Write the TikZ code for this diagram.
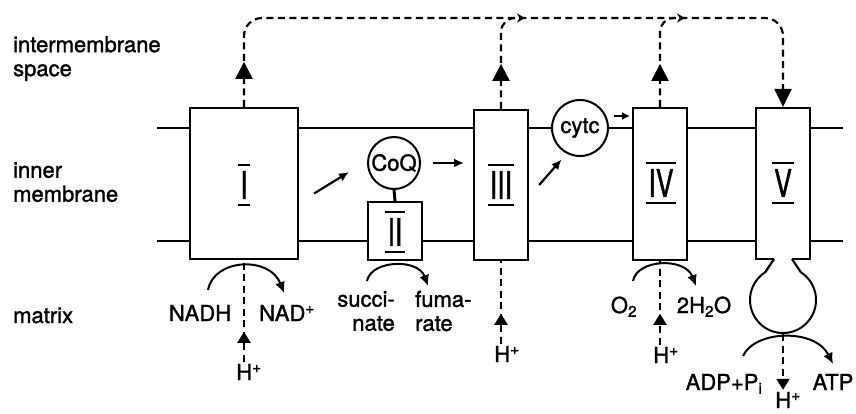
\documentclass[tikz,border=0pt]{standalone}
\usepackage{fontspec}
\setmainfont{TeX Gyre Heros}[UprightFeatures={FakeBold=1.4}]
\usepackage{graphicx}
\usetikzlibrary{arrows.meta,positioning,decorations.markings}

\newcommand{\numeral}[1]{\scalebox{0.7}[1]{#1}}

\begin{document}
\begin{tikzpicture}[
  x=1pt, y=-1pt,
  >=Latex,
  font=\fontsize{22}{24}\selectfont,
  membrane/.style={line width=2.5pt},
  complex/.style={
    draw,
    line width=2.2pt,
    fill=white,
    minimum width=54pt,
    minimum height=151pt,
    inner sep=0pt
  },
  carrier/.style={circle,draw,line width=2pt,fill=white,inner sep=0pt},
  numeral/.style={font=\fontsize{38}{38}\selectfont,inner xsep=2pt,inner ysep=6pt},
  bar/.style={line width=2.6pt},
  tag/.style={inner sep=2pt},
  flow/.style={-{Latex[length=10pt,width=9pt]},line width=2.2pt},
  react/.style={-{Latex[length=11pt,width=10pt]},line width=2pt},
  pump/.style={line width=2.2pt,dash pattern=on 7pt off 4.5pt},
  bigtip/.style={postaction=decorate,
    decoration={markings,mark=at position #1 with {\arrow{Triangle[length=17pt,width=17pt]}}}},
  smalltip/.style={postaction=decorate,
    decoration={markings,mark=at position #1 with {\arrow{Triangle[length=11pt,width=13pt]}}}}
]
  \useasboundingbox (0,0) rectangle (856,413);

  % inner membrane
  \draw[membrane] (157,128) -- (843,128);
  \draw[membrane] (157,241) -- (843,241);

  % complexes
  \node[complex,minimum width=108pt] (cI) at (244,183.5) {};
  \node[complex,minimum height=58pt] (cII) at (395,231) {};
  \node[complex,minimum height=150pt] (cIII) at (501,185) {};
  \node[complex,minimum height=152pt] (cIV) at (660,184) {};
  \node[carrier,minimum size=66pt] (F1) at (783,300) {};
  \node[complex] (cV) at (783,183.5) {};

  % mobile carriers
  \node[carrier,minimum size=52pt] (CoQ) at (394,163) {CoQ};
  \node[carrier,minimum size=56pt] (cytc) at (580,128) {cytc};
  \draw[line width=3pt] (CoQ.south) -- (cII.north);

  % numerals with bars
  \node[numeral] (nI) at (244,185) {\numeral{I}};
  \node[numeral] (nII) at (395,232) {\numeral{II}};
  \node[numeral] (nIII) at (501,185) {\numeral{III}};
  \node[numeral] (nIV) at (661,183) {\numeral{IV}};
  \node[numeral] (nV) at (783,183) {\numeral{V}};
  \foreach \n in {nI,nII,nIII,nIV,nV}
    \draw[bar] (\n.north west) -- (\n.north east) (\n.south west) -- (\n.south east);

  % neck of V
  \fill[white] (774,256) rectangle (792,262);
  \fill[white] (766,262) rectangle (800,273.5);
  \draw[line width=2.2pt] (774,259) -- (765,272.5) (792,259) -- (801,272.5);

  % side labels
  \node[tag,anchor=west,align=left] (ims) at (11,58.5) {intermembrane\\space};
  \node[tag,anchor=west,align=left] (inm) at (11,182) {inner\\membrane};
  \node[tag,anchor=base west] (mtx) at (11,323) {matrix};

  % matrix side
  \node[tag,anchor=base] (nadh) at (200,321) {NADH};
  \node[tag,anchor=base] (nadp) at (287,321) {NAD\textsuperscript{+}};
  \node[tag,anchor=base] (hI) at (249,380) {H\textsuperscript{+}};
  \node[tag,anchor=east,align=right] (succ) at (397,311) {succi-\\nate};
  \node[tag,anchor=west,align=left] (fum) at (413,311) {fuma-\\rate};
  \node[tag,anchor=base] (hIII) at (507,362) {H\textsuperscript{+}};
  \node[tag,anchor=base] (o2) at (624,313) {O\textsubscript{2}};
  \node[tag,anchor=base] (h2o) at (704,313) {2H\textsubscript{2}O};
  \node[tag,anchor=base] (hIV) at (666,363) {H\textsuperscript{+}};
  \node[tag,anchor=base] (adp) at (724,390) {ADP+P\textsubscript{i}};
  \node[tag,anchor=base] (atp) at (833,390) {ATP};
  \node[tag,anchor=base] (hV) at (788,408) {H\textsuperscript{+}};

  % electron flow
  \draw[flow] ([shift={(15,10)}]cI.east) -- ([shift={(-18,9)}]CoQ.west);
  \draw[flow] ([xshift=12pt]CoQ.east) -- ++(31,0);
  \draw[flow] ([xshift=10pt]cIII.east) -- ([shift={(2,11)}]cytc.south west);
  \draw[flow,line width=2pt,-{Latex[length=8pt,width=8pt]}] ([shift={(5,-12)}]cytc.east) -- ++(16,0);

  % proton pathway
  \coordinate (top) at (0,18);
  \coordinate (joinIII) at (525,18);
  \coordinate (joinIV) at (685,18);
  \draw[pump,rounded corners=18pt,bigtip=45pt,-{Triangle[length=18pt,width=17pt]}]
    (cI.north) -- (cI.north |- top) -- (cV.north |- top) -- (cV.north);
  \draw[pump,rounded corners=14pt,bigtip=45pt,-{Stealth[length=8pt,width=9pt]}]
    (cIII.north) -- (cIII.north |- top) -- (joinIII);
  \draw[pump,rounded corners=14pt,bigtip=43pt,-{Stealth[length=8pt,width=9pt]}]
    (cIV.north) -- (cIV.north |- top) -- (joinIV);
  \draw[pump,smalltip=30pt] (cI.south |- hI.north) -- (cI.south);
  \draw[pump,smalltip=30pt] (cIII.south |- hIII.north) -- (cIII.south);
  \draw[pump,smalltip=31pt] (cIV.south |- hIV.north) -- (cIV.south);
  \draw[pump,-{Triangle[length=11pt,width=13pt]}] (F1.south) -- (F1.south |- hV.north);

  % reactions
  \coordinate (nadhIn) at (208,290);
  \coordinate (nadpOut) at (284,293);
  \coordinate (succIn) at (367,281);
  \coordinate (fumOut) at (428,286);
  \coordinate (oxIn) at (633,281);
  \coordinate (waterOut) at (696,286);
  \coordinate (adpIn) at (743,356);
  \coordinate (atpOut) at (833,364);
  \draw[react] (nadhIn) .. controls +(6,-32) and +(-14,-37) .. (nadpOut);
  \draw[react] (succIn) .. controls +(4,-21) and +(-10,-28) .. (fumOut);
  \draw[react] (oxIn) .. controls +(4,-22) and +(-11,-29) .. (waterOut);
  \draw[react] (adpIn) .. controls +(12,-26) and +(-18,-36) .. (atpOut);
\end{tikzpicture}
\end{document}
